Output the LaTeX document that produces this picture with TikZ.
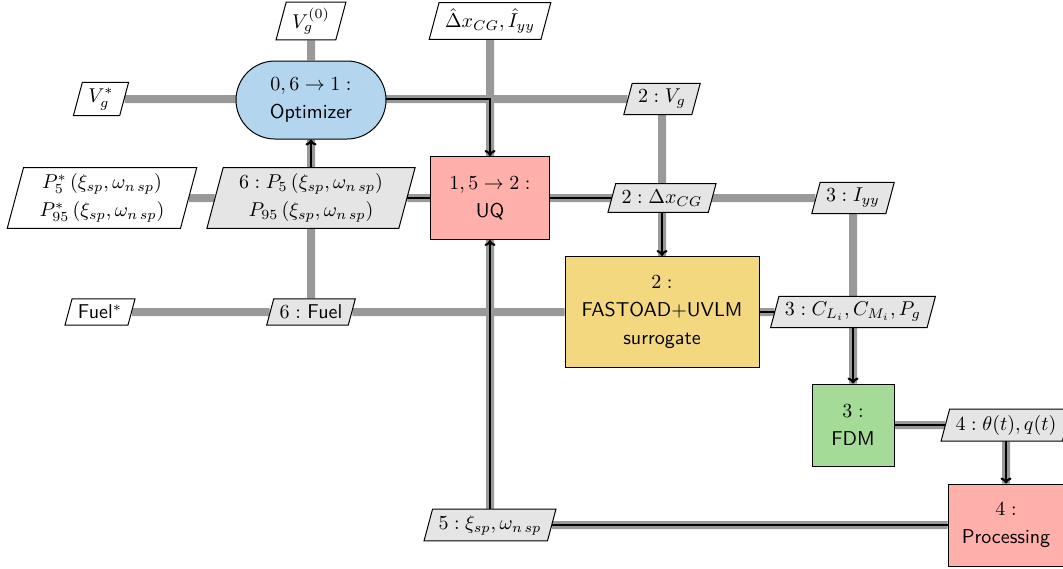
\documentclass[tikz,border=0pt]{standalone}
\usetikzlibrary{shapes.geometric,shapes.misc,arrows.meta}
\definecolor{optc}{RGB}{179,214,238}
\definecolor{uqc}{RGB}{255,176,170}
\definecolor{fastc}{RGB}{243,216,128}
\definecolor{fdmc}{RGB}{164,219,151}
\pgfdeclarelayer{bg}
\pgfdeclarelayer{data}
\pgfdeclarelayer{proc}
\pgfsetlayers{bg,data,proc,main}
\tikzset{
  base/.style={draw=black, line width=0.5pt, align=center, font=\sffamily, inner sep=2pt},
  optbox/.style={base, rounded rectangle, fill=optc, minimum width=79pt, minimum height=39pt},
  funbox/.style={base, rectangle, fill=#1},
  datbox/.style={base, trapezium, trapezium left angle=75, trapezium right angle=105,
    fill=black!10, inner xsep=3pt, inner ysep=3pt},
  inbox/.style={datbox, fill=white},
  twoline/.style={inner xsep=8pt},
  dline/.style={line width=4pt, draw=black!40},
  pline/.style={line width=1.1pt, draw=black, -{To[length=3pt,width=5.5pt]}}
}
\begin{document}
\begin{tikzpicture}[x=0.5pt, y=-0.5pt]
\useasboundingbox (0,0) rectangle (1063,568);
\clip (0,0) rectangle (1063,568);
\begin{pgfonlayer}{bg}
  \fill[white] (0,0) rectangle (1063,568);
\end{pgfonlayer}

% function nodes
\node[optbox] (opt) at (311,100) {$0, 6 \rightarrow 1:$\\[2pt]Optimizer};
\node[funbox=uqc, minimum width=59.5pt, minimum height=41.5pt] (uq) at (490,198) {$1, 5 \rightarrow 2:$\\[2pt]UQ};
\node[funbox=fastc, minimum width=97pt, minimum height=55.5pt] (fast) at (662,312) {$2:$\\[2pt]FASTOAD+UVLM\\[2pt]surrogate};
\node[funbox=fdmc, minimum width=41pt, minimum height=41pt] (fdm) at (853,425) {$3:$\\[2pt]FDM};
\node[funbox=uqc, minimum width=58pt, minimum height=41pt] (proc) at (1006,525) {$4:$\\[2pt]Processing};

% input nodes
\node[inbox] (vg0) at (311,21) {$V_g^{(0)}$};
\node[inbox] (dhat) at (490,21) {$\hat{\Delta} x_{CG}, \hat{I}_{yy}$};
\node[inbox] (vgstar) at (101,99) {$V_g^*$};
\node[inbox, twoline] (pstar) at (102,198) {$P_5^*\left(\xi_{sp}, \omega_{n\,sp}\right)$\\[2pt]$P_{95}^*\left(\xi_{sp}, \omega_{n\,sp}\right)$};
\node[inbox] (fuelstar) at (100,312) {Fuel$^*$};

% data nodes
\node[datbox] (vg2) at (662,99) {$2: V_g$};
\node[datbox, twoline] (p6) at (311,198) {$6: P_5\left(\xi_{sp}, \omega_{n\,sp}\right)$\\[2pt]$P_{95}\left(\xi_{sp}, \omega_{n\,sp}\right)$};
\node[datbox] (dx2) at (662,198) {$2: \Delta x_{CG}$};
\node[datbox] (iyy3) at (853,198) {$3: I_{yy}$};
\node[datbox] (fuel6) at (311,312) {$6:$ Fuel};
\node[datbox] (cl3) at (853,312) {$3: C_{L_i}, C_{M_i}, P_g$};
\node[datbox] (theta4) at (1006,425) {$4: \theta(t), q(t)$};
\node[datbox] (xi5) at (490,525) {$5: \xi_{sp}, \omega_{n\,sp}$};

% data lines
\begin{pgfonlayer}{data}
  \draw[dline] (vgstar) -- (vgstar -| opt);
  \draw[dline] (vg0) -- (opt);
  \draw[dline] (opt.center |- vg2) -- (vg2);
  \draw[dline] (vg2) -- (fast);
  \draw[dline] (dhat) -- (uq);
  \draw[dline] (uq) -- (iyy3);
  \draw[dline] (dx2) -- (fast);
  \draw[dline] (iyy3) -- (fdm);
  \draw[dline] (fast) -- (cl3);
  \draw[dline] (fdm) -- (theta4);
  \draw[dline] (theta4) -- (proc);
  \draw[dline] (proc) -- (xi5);
  \draw[dline] (xi5) -- (uq);
  \draw[dline] (uq) -- (p6);
  \draw[dline] (p6) -- (opt);
  \draw[dline] (pstar) -- (p6);
  \draw[dline] (fuelstar) -- (fuel6);
  \draw[dline] (fuel6) -- (fast);
  \draw[dline] (fuel6) -- (p6);
\end{pgfonlayer}

% process lines
\begin{pgfonlayer}{proc}
  \draw[pline] (opt.center |- vg2) -| (uq.north);
  \draw[pline] (uq.center) -| (fast.north);
  \draw[pline] (fast.center) -| (fdm.north);
  \draw[pline] (fdm.center) -| (proc.north);
  \draw[pline] (proc.center) -| (uq.south);
  \draw[pline] (uq.center) -| (opt.south);
\end{pgfonlayer}
\end{tikzpicture}
\end{document}
